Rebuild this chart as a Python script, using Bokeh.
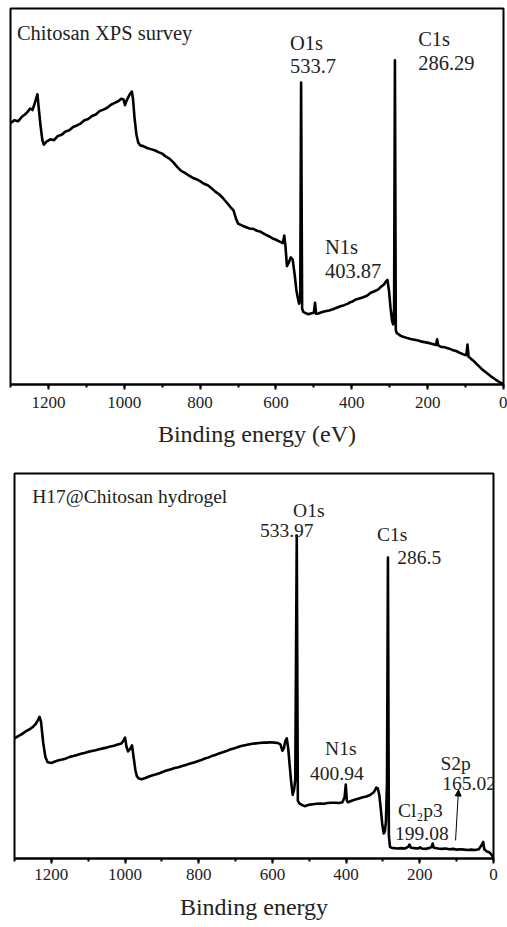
from bokeh.plotting import figure
from bokeh.layouts import column
from bokeh.models import Range1d, SingleIntervalTicker, ColumnDataSource, Arrow, NormalHead
from bokeh.core.properties import value
from bokeh.embed import file_html
from bokeh.resources import INLINE

# ---------------- data ----------------
top_be = [1300, 1290, 1280, 1270, 1262, 1255, 1248, 1242, 1236, 1232, 1229, 1226, 1221, 1216, 1212,
          1205, 1195, 1185, 1175, 1165, 1155, 1145, 1135, 1125, 1115, 1105, 1095, 1085, 1075, 1065,
          1055, 1045, 1035, 1025, 1015, 1008, 1002, 998, 994, 989, 984, 980, 977, 973, 968, 963, 958,
          950, 940, 930, 920, 910, 900, 890, 880, 870, 860, 850, 840, 830, 820, 810, 800, 790, 780,
          770, 760, 750, 740, 730, 720, 712, 705, 700, 690, 680, 670, 660, 650, 640, 630, 620, 610,
          600, 590, 582, 578, 575, 571, 566, 561, 556, 551, 546, 542, 539, 536, 533.7, 531, 528, 522,
          515, 508, 500, 497, 494, 488, 480, 470, 460, 450, 440, 430, 420, 410, 404, 400, 390, 380,
          370, 360, 350, 340, 330, 322, 315, 310, 306, 302, 298, 294, 291, 288.5, 286.29, 284, 281,
          277, 272, 265, 255, 245, 235, 225, 215, 205, 195, 185, 178, 175, 172, 165, 155, 145, 135,
          125, 115, 105, 98, 95, 92, 85, 75, 65, 55, 45, 35, 25, 15, 8, 3, 0]
top_int = [69.5, 70.3, 70.0, 71.2, 71.8, 72.5, 73.4, 73.0, 74.8, 76.2, 77.2, 74.0, 69.0, 65.0, 63.8,
           64.6, 65.2, 65.0, 66.1, 66.4, 67.3, 67.6, 68.5, 68.9, 69.4, 70.3, 70.6, 71.4, 71.8, 72.7,
           73.1, 73.6, 74.4, 74.9, 75.4, 76.0, 75.8, 74.3, 75.5, 76.5, 77.4, 77.9, 76.0, 71.0, 66.5,
           64.3, 63.6, 63.4, 62.9, 62.6, 62.3, 61.8, 61.4, 60.6, 60.0, 59.0, 57.8, 56.8, 56.3, 55.6,
           55.0, 54.6, 54.1, 53.4, 53.0, 52.2, 51.3, 50.6, 49.6, 48.4, 47.2, 46.3, 44.0, 42.8, 42.3,
           41.9, 41.5, 41.4, 40.9, 40.6, 40.0, 39.5, 38.9, 38.5, 38.0, 37.6, 39.6, 36.8, 31.5, 32.5,
           33.8, 33.2, 29.5, 25.0, 22.8, 21.5, 22.5, 80.3, 20.2, 19.3, 19.0, 18.7, 18.9, 19.1, 21.7,
           18.8, 18.9, 19.2, 19.5, 19.7, 20.0, 20.4, 20.8, 21.1, 21.5, 21.9, 22.0, 22.6, 22.9, 23.2,
           23.6, 24.4, 24.8, 25.3, 26.1, 26.6, 27.4, 27.8, 25.0, 20.5, 17.0, 16.0, 20.0, 86.2, 14.5,
           13.6, 13.4, 13.0, 12.7, 12.4, 12.1, 11.9, 11.7, 11.4, 11.2, 11.0, 10.7, 10.5, 12.0, 10.4,
           10.0, 9.9, 9.6, 9.2, 8.9, 8.4, 8.0, 7.8, 10.6, 7.4, 6.8, 5.9, 4.9, 3.9, 3.1, 2.3, 1.6,
           0.9, 0.5, 0.2, 0.0]

bot_be = [1300, 1290, 1280, 1270, 1260, 1250, 1242, 1236, 1232, 1228, 1222, 1216, 1210, 1200, 1190,
          1180, 1170, 1160, 1150, 1140, 1130, 1120, 1110, 1100, 1090, 1080, 1070, 1060, 1050, 1040,
          1030, 1020, 1010, 1004, 1000, 996, 992, 986, 981, 977, 972, 968, 963, 955, 945, 935, 925,
          915, 905, 895, 885, 875, 865, 855, 845, 835, 825, 815, 805, 795, 785, 775, 765, 755, 745,
          735, 725, 715, 705, 695, 685, 675, 665, 655, 645, 635, 625, 615, 605, 595, 585, 578, 573,
          569, 565, 561, 557, 553, 549, 545, 541, 538, 533.97, 531, 527, 520, 512, 505, 498, 490,
          480, 470, 460, 450, 440, 430, 420, 410, 404, 400.94, 398, 395, 385, 375, 365, 355, 345,
          335, 325, 318, 314, 310, 306, 302, 298, 295, 292, 289, 286.5, 284, 281, 277, 270, 260,
          250, 240, 232, 228, 224, 215, 205, 199, 195, 185, 175, 168, 165, 162, 150, 140, 130, 120,
          110, 100, 90, 80, 70, 60, 50, 40, 32, 28, 25, 18, 12, 8, 4, 0]
bot_int = [31.2, 31.8, 32.3, 33.0, 33.5, 34.2, 35.0, 36.0, 36.8, 35.5, 30.0, 26.3, 25.0, 24.8, 25.2,
           25.5, 25.7, 26.0, 26.4, 26.6, 26.9, 27.2, 27.4, 27.7, 27.9, 28.1, 28.4, 28.6, 28.8, 29.1,
           29.3, 29.6, 29.9, 30.6, 31.4, 29.0, 27.8, 28.5, 29.4, 26.5, 23.0, 21.4, 20.8, 20.6, 20.9,
           21.3, 21.6, 21.9, 22.2, 22.6, 22.9, 23.2, 23.5, 23.7, 24.0, 24.3, 24.6, 24.9, 25.2, 25.5,
           25.9, 26.2, 26.6, 26.9, 27.3, 27.6, 27.9, 28.3, 28.6, 28.9, 29.2, 29.4, 29.6, 29.8, 29.9,
           30.0, 30.1, 30.1, 30.2, 30.1, 30.0, 29.6, 28.0, 28.6, 30.5, 31.2, 28.5, 24.0, 19.8, 16.5,
           18.0, 20.5, 83.9, 15.0, 14.3, 13.9, 13.6, 13.8, 14.0, 14.1, 14.2, 14.3, 14.2, 14.4, 14.5,
           14.5, 14.4, 14.6, 16.0, 19.2, 15.0, 14.6, 15.0, 15.3, 15.6, 15.9, 16.1, 16.5, 17.2, 18.4,
           18.2, 16.5, 13.0, 9.0, 6.5, 7.0, 9.5, 20.0, 78.2, 6.0, 3.0, 2.8, 2.7, 2.6, 2.7, 2.6, 3.0,
           3.6, 2.8, 2.7, 2.6, 2.9, 2.6, 2.5, 2.7, 3.0, 3.9, 2.8, 2.6, 2.5, 2.6, 2.4, 2.5, 2.3, 2.4,
           2.3, 2.2, 2.3, 2.2, 2.4, 3.5, 4.3, 2.4, 1.8, 1.6, 1.3, 0.8, 0.3]

top_xlabel = "Binding energy (eV)"
bot_xlabel = "Binding energy"

top_ann_text = ["Chitosan XPS survey", "O1s", "533.7", "C1s", "286.29", "N1s", "403.87"]
top_ann_x = [1283, 563, 563, 225, 225, 471, 471]
top_ann_y = [93.4, 90.7, 84.6, 92.0, 85.6, 36.7, 30.3]

bot_ann_text = ["H17@Chitosan hydrogel", "O1s", "533.97", "C1s", "286.5", "N1s", "400.94",
                "S2p", "165.02", "Cl\u2082p3", "199.08"]
bot_ann_x = [1252, 544, 634, 316, 261, 457, 498, 144, 139, 259, 267]
bot_ann_y = [94.0, 90.4, 85.2, 84.2, 78.2, 28.6, 22.1, 24.7, 19.5, 12.5, 6.5]

arrow_start = (103, 4.7)
arrow_end = (95, 17.8)

SERIF = "Liberation Serif"


def make_panel(be, inten, xlabel, ann_text, ann_x, ann_y, width, height, bl, br, bt, bb,
               lab_standoff, ax_standoff, ann_size):
    p = figure(width=width, height=height, output_backend="svg", toolbar_location=None,
               x_range=Range1d(1300, 0), y_range=Range1d(0, 100), y_axis_location=None,
               min_border_left=bl, min_border_right=br, min_border_top=bt, min_border_bottom=bb)
    p.frame_align = False
    p.xgrid.visible = False
    p.ygrid.visible = False
    p.outline_line_color = "black"
    p.outline_line_width = 2
    p.outline_line_alpha = 1.0
    p.background_fill_color = "white"
    p.border_fill_color = "white"

    ax = p.xaxis[0]
    ax.ticker = SingleIntervalTicker(interval=200, num_minor_ticks=2)
    ax.axis_line_width = 2
    ax.axis_line_color = "black"
    ax.major_tick_line_width = 2
    ax.minor_tick_line_width = 2
    ax.major_tick_line_color = "black"
    ax.minor_tick_line_color = "black"
    ax.major_tick_in = 0
    ax.major_tick_out = 5
    ax.minor_tick_in = 0
    ax.minor_tick_out = 3
    ax.major_label_text_font = SERIF
    ax.major_label_text_font_size = "17px"
    ax.major_label_text_color = "#222222"
    ax.major_label_standoff = lab_standoff
    ax.axis_label = xlabel
    ax.axis_label_text_font = SERIF
    ax.axis_label_text_font_size = "24px"
    ax.axis_label_text_font_style = "normal"
    ax.axis_label_text_color = "#222222"
    ax.axis_label_standoff = ax_standoff

    p.line(be, inten, line_color="black", line_width=2.6, line_join="round")

    src = ColumnDataSource(dict(x=ann_x, y=ann_y, t=ann_text))
    p.text(x="x", y="y", text="t", source=src, text_font=value(SERIF),
           text_font_size=value(ann_size), text_align="left", text_baseline="alphabetic",
           text_color="#222222")
    return p


p1 = make_panel(top_be, top_int, top_xlabel, top_ann_text, top_ann_x, top_ann_y,
                width=507, height=468, bl=10, br=4, bt=8, bb=84,
                lab_standoff=7, ax_standoff=10, ann_size="20.5px")
p2 = make_panel(bot_be, bot_int, bot_xlabel, bot_ann_text, bot_ann_x, bot_ann_y,
                width=507, height=459, bl=14, br=14, bt=5, bb=69,
                lab_standoff=5, ax_standoff=11, ann_size="19.5px")

p2.add_layout(Arrow(end=NormalHead(size=6, fill_color="black", line_color="black", line_width=1),
                    x_start=arrow_start[0], y_start=arrow_start[1],
                    x_end=arrow_end[0], y_end=arrow_end[1],
                    line_color="black", line_width=1))

layout = column(p1, p2, spacing=0)
open("out.html", "w").write(file_html(layout, INLINE))
